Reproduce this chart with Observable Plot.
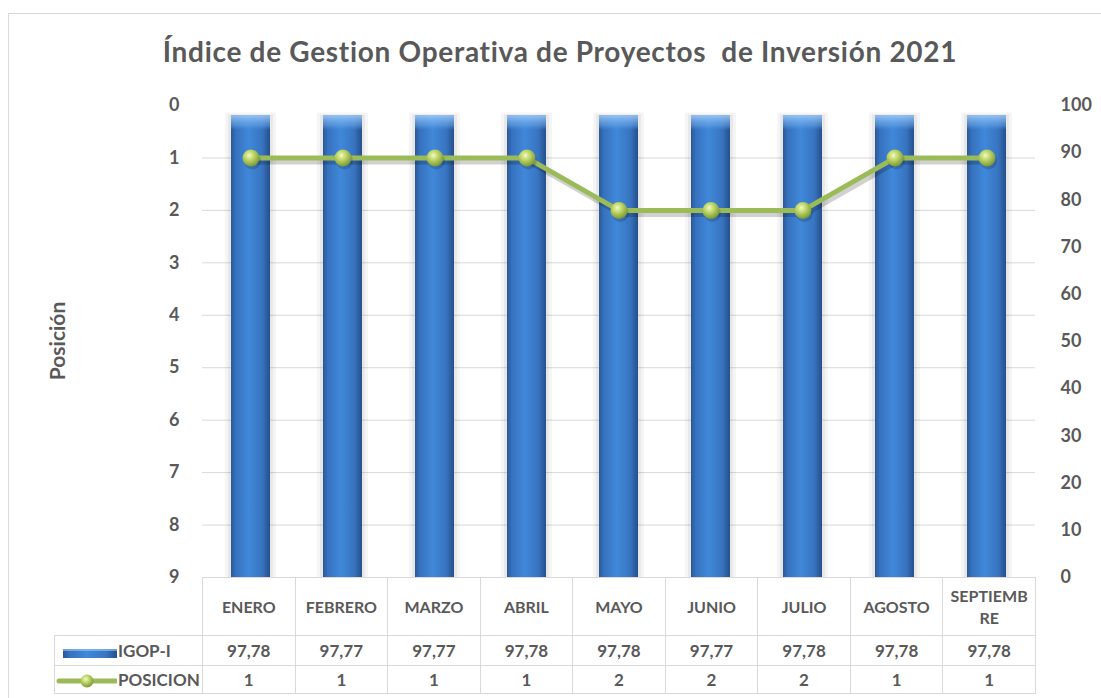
<!DOCTYPE html>
<html>
<head>
<meta charset="utf-8">
<script src="https://cdn.jsdelivr.net/npm/d3@7"></script>
<script src="https://cdn.jsdelivr.net/npm/@observablehq/plot@0.6"></script>
<style>
  html, body { margin: 0; padding: 0; background: #fff; overflow: hidden; }
  #wrap { position: relative; width: 1101px; height: 698px; overflow: hidden; font-family: Lato, "Open Sans", sans-serif; color: #595959; font-variant-ligatures: none; }
  #frame { position: absolute; left: 8px; top: 13px; width: 1120px; height: 720px; border: 1px solid #d9d9d9; box-sizing: border-box; }
  #title { position: absolute; left: 0; top: 35px; width: 1120px; text-align: center; font-size: 28px; letter-spacing: 0.7px; font-weight: bold; line-height: 32px; color: #595959; white-space: pre; }
  #chart { position: absolute; left: 0; top: 0; }
  #ylabel { position: absolute; left: -43px; top: 329px; width: 200px; height: 24px; line-height: 24px; text-align: center; font-size: 21px; font-weight: bold; transform: rotate(-90deg); color: #595959; }
  #tbl { position: absolute; left: 54px; top: 577px; border-collapse: collapse; table-layout: fixed; font-weight: bold; color: #595959; }
  #tbl td { border: 1px solid #d9d9d9; text-align: center; padding: 0; }
  #tbl tr.head td { height: 57px; font-size: 16px; line-height: 22px; white-space: pre-line; }
  #tbl tr.head td.blank { border: none; border-right: 1px solid #d9d9d9; }
  #tbl tr.r1 td { height: 29px; font-size: 17px; }
  #tbl tr.r2 td { height: 27px; font-size: 17px; }
  #tbl td.leg { text-align: left; font-size: 14.5px; white-space: nowrap; }
  #tbl td.leg svg { vertical-align: middle; margin-right: 1px; }
</style>
</head>
<body>
<svg width="0" height="0" style="position:absolute">
  <defs>
    <linearGradient id="barGrad" x1="0" y1="0" x2="1" y2="0">
      <stop offset="0%" stop-color="#2a5796"/>
      <stop offset="12%" stop-color="#3671bd"/>
      <stop offset="45%" stop-color="#4088da"/>
      <stop offset="80%" stop-color="#3874c0"/>
      <stop offset="100%" stop-color="#264f8a"/>
    </linearGradient>
    <linearGradient id="capGrad" x1="0" y1="0" x2="0" y2="1">
      <stop offset="0%" stop-color="#9ccaf7" stop-opacity="0.9"/>
      <stop offset="2.2%" stop-color="#6aa6ea" stop-opacity="0.5"/>
      <stop offset="3.2%" stop-color="#4a8fdf" stop-opacity="0"/>
      <stop offset="100%" stop-color="#4a8fdf" stop-opacity="0"/>
    </linearGradient>
    <radialGradient id="dotGrad" cx="40%" cy="35%" r="65%">
      <stop offset="0%" stop-color="#f2f8cf"/>
      <stop offset="35%" stop-color="#c8de72"/>
      <stop offset="100%" stop-color="#7c9a34"/>
    </radialGradient>
  </defs>
</svg>
<div id="wrap">
  <div id="frame"></div>
  <div id="chart"></div>
  <div id="title"></div>
  <div id="ylabel"></div>
  <table id="tbl"></table>
</div>
<script>
// ---- data ----
const titleText = "Índice de Gestion Operativa de Proyectos  de Inversión 2021";
const yLabelText = "Posición";
const months = ["ENERO", "FEBRERO", "MARZO", "ABRIL", "MAYO", "JUNIO", "JULIO", "AGOSTO", "SEPTIEMBRE"];
const monthLabels = ["ENERO", "FEBRERO", "MARZO", "ABRIL", "MAYO", "JUNIO", "JULIO", "AGOSTO", "SEPTIEMB\nRE"];
const igop = [97.78, 97.77, 97.77, 97.78, 97.78, 97.77, 97.78, 97.78, 97.78];
const posicion = [1, 1, 1, 1, 2, 2, 2, 1, 1];
const igopLabels = ["97,78", "97,77", "97,77", "97,78", "97,78", "97,77", "97,78", "97,78", "97,78"];
const seriesNames = ["IGOP-I", "POSICION"];
const leftTicks = [0, 1, 2, 3, 4, 5, 6, 7, 8, 9];
const gridPositions = [1, 2, 3, 4, 5, 6, 7, 8];
const rightTicks = [0, 10, 20, 30, 40, 50, 60, 70, 80, 90, 100];
const posMax = 9;

// ---- derived ----
const posToY = p => 100 * (1 - p / posMax);
const data = months.map((m, i) => ({mes: m, igop: igop[i], pos: posicion[i], posY: posToY(posicion[i])}));

const green = "#9bbb59";

const chart = Plot.plot({
  width: 1101,
  height: 600,
  marginTop: 105,
  marginBottom: 23,
  marginLeft: 202,
  marginRight: 66,
  style: {fontFamily: "Lato, 'Open Sans', sans-serif", fontSize: "18px", fontWeight: "bold", color: "#595959", background: "transparent"},
  x: {type: "band", domain: months, paddingInner: 0.58, paddingOuter: 0.29, axis: null},
  y: {domain: [0, 100], axis: null},
  marks: [
    Plot.ruleY(gridPositions.map(posToY), {stroke: "#d9d9d9", strokeWidth: 1}),
    // soft shadow around bars
    Plot.barY(data, {x: "mes", y: "igop", fill: "#000", fillOpacity: 0.04, insetLeft: -6, insetRight: -6, insetTop: -3}),
    Plot.barY(data, {x: "mes", y: "igop", fill: "#000", fillOpacity: 0.05, insetLeft: -3, insetRight: -3, insetTop: -1}),
    Plot.barY(data, {x: "mes", y: "igop", fill: "url(#barGrad)"}),
    Plot.barY(data, {x: "mes", y: "igop", fill: "url(#capGrad)"}),
    // line shadow
    Plot.line(data, {x: "mes", y: "posY", stroke: "#000", strokeOpacity: 0.18, strokeWidth: 5, dx: 2, dy: 4}),
    Plot.line(data, {x: "mes", y: "posY", stroke: green, strokeWidth: 5}),
    Plot.dot(data, {x: "mes", y: "posY", r: 8.5, fill: "#000", fillOpacity: 0.15, dx: 1.5, dy: 3}),
    Plot.dot(data, {x: "mes", y: "posY", r: 8.5, fill: "url(#dotGrad)"}),
    Plot.axisY({anchor: "left", ticks: leftTicks.map(posToY), tickFormat: d => String(Math.round(posMax * (1 - d / 100))), tickSize: 0, tickPadding: 23, fontSize: 18, fontWeight: "bold", color: "#595959", label: null}),
    Plot.axisY({anchor: "right", ticks: rightTicks, tickFormat: d => String(d), tickSize: 0, tickPadding: 25, fontSize: 18, fontWeight: "bold", color: "#595959", label: null})
  ]
});
document.getElementById("chart").appendChild(chart);
document.getElementById("title").textContent = titleText;
document.getElementById("ylabel").textContent = yLabelText;

// ---- data table below the chart ----
const tbl = document.getElementById("tbl");
const cg = document.createElement("colgroup");
const legW = document.createElement("col"); legW.style.width = "148px"; cg.appendChild(legW);
months.forEach(() => { const c = document.createElement("col"); c.style.width = (833 / months.length) + "px"; cg.appendChild(c); });
tbl.appendChild(cg);

const head = document.createElement("tr"); head.className = "head";
const blank = document.createElement("td"); blank.className = "blank"; head.appendChild(blank);
monthLabels.forEach(m => { const td = document.createElement("td"); td.textContent = m; head.appendChild(td); });
tbl.appendChild(head);

const iconBar = `<svg width="62" height="14"><rect x="8" y="3" width="54" height="9" fill="url(#barGrad)"/><rect x="8" y="3" width="54" height="2" fill="#9ccaf7" fill-opacity="0.6"/></svg>`;
const iconLine = `<svg width="62" height="18"><line x1="4" y1="9" x2="61" y2="9" stroke="${green}" stroke-width="5" stroke-linecap="round"/><circle cx="32" cy="9" r="6.5" fill="url(#dotGrad)"/></svg>`;

const r1 = document.createElement("tr"); r1.className = "r1";
const l1 = document.createElement("td"); l1.className = "leg"; l1.innerHTML = iconBar + seriesNames[0]; r1.appendChild(l1);
igopLabels.forEach(v => { const td = document.createElement("td"); td.textContent = v; r1.appendChild(td); });
tbl.appendChild(r1);

const r2 = document.createElement("tr"); r2.className = "r2";
const l2 = document.createElement("td"); l2.className = "leg"; l2.innerHTML = iconLine + seriesNames[1]; r2.appendChild(l2);
posicion.forEach(v => { const td = document.createElement("td"); td.textContent = String(v); r2.appendChild(td); });
tbl.appendChild(r2);
</script>
</body>
</html>
